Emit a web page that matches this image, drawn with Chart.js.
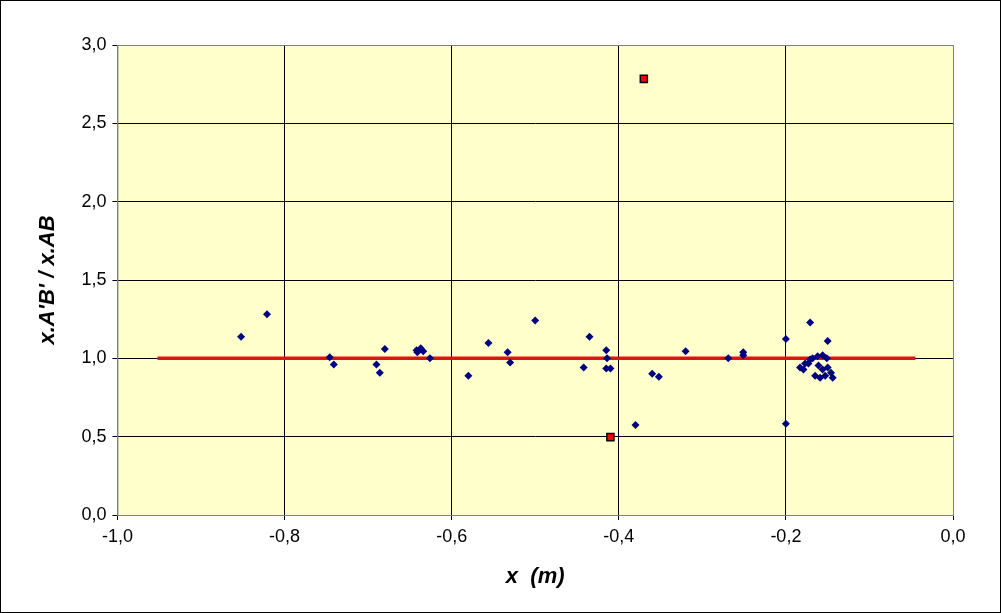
<!DOCTYPE html>
<html>
<head>
<meta charset="utf-8">
<script src="https://cdn.jsdelivr.net/npm/chart.js@4/dist/chart.umd.min.js"></script>
<style>
html,body{margin:0;padding:0;background:#fff;}
#wrap{width:999px;height:611px;border:1px solid #000;position:relative;}
</style>
</head>
<body>
<div id="wrap"><canvas id="grafico" width="999" height="611"></canvas></div>
<script>
// mesures (x en m, rapport x.A'B'/x.AB)
const mesuresX = [-0.852,-0.821,-0.746,-0.741,-0.690,-0.686,-0.680,-0.642,-0.641,-0.637,-0.634,-0.626,
  -0.580,-0.556,-0.533,-0.530,-0.500,-0.442,-0.435,-0.415,-0.414,-0.415,-0.410,-0.380,-0.360,-0.352,
  -0.320,-0.269,-0.251,-0.251,-0.200,-0.200,-0.171,-0.150,
  -0.183,-0.177,-0.179,-0.173,-0.168,-0.162,-0.156,-0.151,-0.161,-0.156,-0.150,-0.146,-0.165,-0.159,-0.153,-0.144,-0.171];
const mesuresY = [1.137,1.281,1.007,0.961,0.961,0.908,1.059,1.052,1.039,1.065,1.046,1.0,
  0.889,1.098,1.039,0.974,1.242,0.941,1.137,1.052,1.0,0.935,0.935,0.575,0.902,0.882,
  1.046,1.0,1.039,1.020,1.124,0.582,1.229,1.111,
  0.941,0.967,0.928,0.967,1.0,1.013,1.020,1.0,0.954,0.928,0.941,0.908,0.889,0.876,0.889,0.876,0.993];
const aberrantsX = [-0.370,-0.410];
const aberrantsY = [2.784,0.497];
const referenceX = [-0.952,-0.045];
const referenceY = [1.0,1.0];

const virgule = v => v.toFixed(1).replace('.', ',');
const pts = (xs, ys) => xs.map((x, i) => ({x: x, y: ys[i]}));

const fondPlot = {
  id: 'fondPlot',
  beforeDraw(chart) {
    const a = chart.chartArea, c = chart.ctx;
    c.save();
    c.fillStyle = '#ffffcc';
    c.fillRect(a.left, a.top, a.right - a.left, a.bottom - a.top);
    c.restore();
  },
  afterDraw(chart) {
    const a = chart.chartArea, c = chart.ctx;
    c.save();
    c.strokeStyle = '#808080';
    c.lineWidth = 1;
    c.strokeRect(a.left + 0.5, a.top + 0.5, a.right - a.left, a.bottom - a.top);
    c.restore();
  }
};

new Chart(document.getElementById('grafico'), {
  type: 'scatter',
  data: {
    datasets: [
      {data: pts(referenceX, referenceY), showLine: true, borderColor: '#e0140f', borderWidth: 3.5, pointRadius: 0, order: 3},
      {data: pts(mesuresX, mesuresY), pointStyle: 'rectRot', pointRadius: 4, backgroundColor: '#000080', borderColor: '#000080', borderWidth: 0, order: 1},
      {data: pts(aberrantsX, aberrantsY), pointStyle: 'rect', pointRadius: 5, backgroundColor: '#ff0000', borderColor: '#000', borderWidth: 1.5, order: 0}
    ]
  },
  options: {
    responsive: false,
    animation: false,
    layout: {padding: {left: 30, right: 47, top: 44, bottom: 18}},
    plugins: {legend: {display: false}, tooltip: {enabled: false}},
    scales: {
      x: {
        type: 'linear', min: -1, max: 0,
        ticks: {stepSize: 0.2, callback: v => virgule(v), color: '#000', font: {family: 'Liberation Sans, Arial', size: 18}, padding: 6},
        grid: {color: '#000', lineWidth: 1, drawTicks: true, tickLength: 5},
        border: {color: '#808080'},
        title: {display: true, text: 'x  (m)', color: '#000', font: {family: 'Liberation Sans, Arial', size: 22, weight: 'bold', style: 'italic'}, padding: {top: 10}}
      },
      y: {
        min: 0, max: 3,
        ticks: {stepSize: 0.5, callback: v => virgule(v), color: '#000', font: {family: 'Liberation Sans, Arial', size: 18}, padding: 6},
        grid: {color: '#000', lineWidth: 1, tickLength: 5},
        border: {color: '#808080'},
        title: {display: true, text: "x.A'B' / x.AB", color: '#000', font: {family: 'Liberation Sans, Arial', size: 22, weight: 'bold', style: 'italic'}, padding: {bottom: 14}}
      }
    }
  },
  plugins: [fondPlot]
});
</script>
</body>
</html>
